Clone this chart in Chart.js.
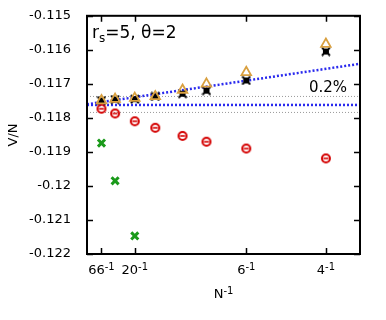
<!DOCTYPE html>
<html lang="en">
<head>
<meta charset="UTF-8">
<title>V/N vs 1/N</title>
<script src="https://cdn.jsdelivr.net/npm/chart.js"></script>
<style>
  html, body { margin: 0; padding: 0; background: #fff; }
</style>
</head>
<body>
<canvas id="chart" width="386" height="320"></canvas>
<script>
// system sizes N and the V/N estimates
const sizes = [66, 34, 20, 14, 10, 8, 6, 4];
const vRed = [-0.11773, -0.11787, -0.11810, -0.11829, -0.11853, -0.11870, -0.11890, -0.11919];
const vOrange = [-0.11749, -0.11745, -0.11742, -0.11737, -0.11718, -0.11700, -0.11666, -0.11583];
const vBlack = [-0.11749, -0.11746, -0.11745, -0.11737, -0.11729, -0.11720, -0.11690, -0.11605];
const greenSizes = [66, 34, 20];
const vGreen = [-0.11874, -0.11985, -0.12147];

// extrapolation lines and the +-0.2% band, x = 1/N
const fitX = [0, 0.2857];
const fitSlope = [-0.11760, -0.11641];
const fitFlat = [-0.11762, -0.11762];
const bandHi = [-0.11737, -0.11737];
const bandLo = [-0.11784, -0.11784];

// axis ticks
const xTickN = [66, 20, 6, 4];
const yTicks = [-0.115, -0.116, -0.117, -0.118, -0.119, -0.12, -0.121, -0.122];

const FONT = 'DejaVu Sans';

const pts = (ns, vs) => ns.map((n, i) => ({ x: 1 / n, y: vs[i] }));
const line = (ys) => fitX.map((x, i) => ({ x: x, y: ys[i] }));

// custom markers
function redMarker() {
    const c = document.createElement('canvas');
    c.width = 12; c.height = 12;
    const g = c.getContext('2d');
    g.strokeStyle = '#d40000';
    g.lineWidth = 2;
    g.beginPath(); g.arc(6, 6, 4, 0, Math.PI * 2); g.stroke();
    g.lineWidth = 1.6;
    g.beginPath(); g.moveTo(3.5, 6); g.lineTo(8.5, 6); g.stroke();
    return c;
}
function blackMarker() {
    const c = document.createElement('canvas');
    c.width = 10; c.height = 10;
    const g = c.getContext('2d');
    g.fillStyle = '#000';
    g.fillRect(2, 2, 6, 6);
    g.strokeStyle = '#000';
    g.lineWidth = 2;
    g.beginPath();
    g.moveTo(1, 1); g.lineTo(9, 9);
    g.moveTo(9, 1); g.lineTo(1, 9);
    g.stroke();
    return c;
}

// text with a raised "-1" exponent, centred on cx
function powText(ctx, base, cx, y, size) {
    ctx.font = size + 'px ' + FONT;
    const wb = ctx.measureText(base).width;
    ctx.font = Math.round(size * 0.77) + 'px ' + FONT;
    const we = ctx.measureText('-1').width;
    const x0 = cx - (wb + we) / 2;
    ctx.font = size + 'px ' + FONT;
    ctx.fillText(base, x0, y);
    ctx.font = Math.round(size * 0.77) + 'px ' + FONT;
    ctx.fillText('-1', x0 + wb, y - 4);
}

const frame = {
    id: 'frame',
    afterDraw(chart) {
        const { ctx, chartArea: a, scales } = chart;
        ctx.save();
        ctx.strokeStyle = '#000';
        ctx.lineWidth = 1.5;
        ctx.beginPath();
        scales.x.ticks.forEach(t => {
            const px = Math.round(scales.x.getPixelForValue(t.value)) + 0.5;
            ctx.moveTo(px, a.bottom); ctx.lineTo(px, a.bottom - 6);
            ctx.moveTo(px, a.top); ctx.lineTo(px, a.top + 6);
        });
        scales.y.ticks.forEach(t => {
            const py = Math.round(scales.y.getPixelForValue(t.value)) + 0.5;
            ctx.moveTo(a.left, py); ctx.lineTo(a.left + 6, py);
            ctx.moveTo(a.right, py); ctx.lineTo(a.right - 6, py);
        });
        ctx.stroke();
        ctx.lineWidth = 2;
        ctx.strokeRect(a.left, a.top, a.right - a.left, a.bottom - a.top);

        ctx.fillStyle = '#000';
        ctx.textBaseline = 'alphabetic';
        ctx.textAlign = 'left';

        // x tick labels and axis title with exponents
        scales.x.ticks.forEach((t, i) => {
            powText(ctx, String(xTickN[i]), scales.x.getPixelForValue(t.value), a.bottom + 20, 13);
        });
        powText(ctx, 'N', (a.left + a.right) / 2, 298, 13);

        // labels inside the plot
        let x = a.left + 5, y = a.top + 22;
        ctx.font = '17px ' + FONT;
        ctx.fillText('r', x, y);
        x += ctx.measureText('r').width;
        ctx.font = '12px ' + FONT;
        ctx.fillText('s', x, y + 4);
        x += ctx.measureText('s').width;
        ctx.font = '17px ' + FONT;
        ctx.fillText('=5, θ=2', x, y);

        ctx.font = '15px ' + FONT;
        ctx.fillText('0.2%', 309, 92);
        ctx.restore();
    }
};

new Chart(document.getElementById('chart'), {
    type: 'scatter',
    data: {
        datasets: [
            {
                data: pts(sizes, vOrange),
                pointStyle: 'triangle', pointRadius: 5.5,
                borderColor: '#d9a040', backgroundColor: 'rgba(0,0,0,0)', borderWidth: 1.8
            },
            {
                data: pts(sizes, vRed),
                pointStyle: redMarker(), pointRadius: 5
            },
            {
                data: pts(sizes, vBlack),
                pointStyle: blackMarker(), pointRadius: 5
            },
            {
                data: pts(greenSizes, vGreen),
                pointStyle: 'crossRot', pointRadius: 5,
                borderColor: '#1a9a1a', borderWidth: 3
            },
            {
                data: line(fitSlope), showLine: true, pointRadius: 0,
                borderColor: '#2a2aee', borderWidth: 2.5, borderDash: [2, 2]
            },
            {
                data: line(fitFlat), showLine: true, pointRadius: 0,
                borderColor: '#2a2aee', borderWidth: 2.5, borderDash: [2, 2]
            },
            {
                data: line(bandHi), showLine: true, pointRadius: 0,
                borderColor: '#999', borderWidth: 1, borderDash: [1, 2]
            },
            {
                data: line(bandLo), showLine: true, pointRadius: 0,
                borderColor: '#999', borderWidth: 1, borderDash: [1, 2]
            }
        ]
    },
    options: {
        responsive: false,
        animation: false,
        layout: { padding: { left: 0, right: 26, top: 15, bottom: 10 } },
        plugins: { legend: { display: false }, tooltip: { enabled: false } },
        scales: {
            x: {
                type: 'linear', min: fitX[0], max: fitX[1],
                afterBuildTicks: s => { s.ticks = xTickN.map(n => ({ value: 1 / n })); },
                afterFit: s => { s.height = 56; },
                grid: { display: false }, border: { display: false },
                ticks: { display: false }
            },
            y: {
                type: 'linear', min: -0.122, max: -0.115,
                afterBuildTicks: s => { s.ticks = yTicks.map(v => ({ value: v })); },
                afterFit: s => { s.width = 87; },
                grid: { display: false }, border: { display: false },
                ticks: {
                    padding: 8, color: '#000',
                    font: { family: FONT, size: 13 },
                    callback: v => String(v)
                },
                title: {
                    display: true, text: 'V/N', color: '#000',
                    font: { family: FONT, size: 13 }, padding: { top: 6, bottom: 0 }
                }
            }
        }
    },
    plugins: [frame]
});
</script>
</body>
</html>
